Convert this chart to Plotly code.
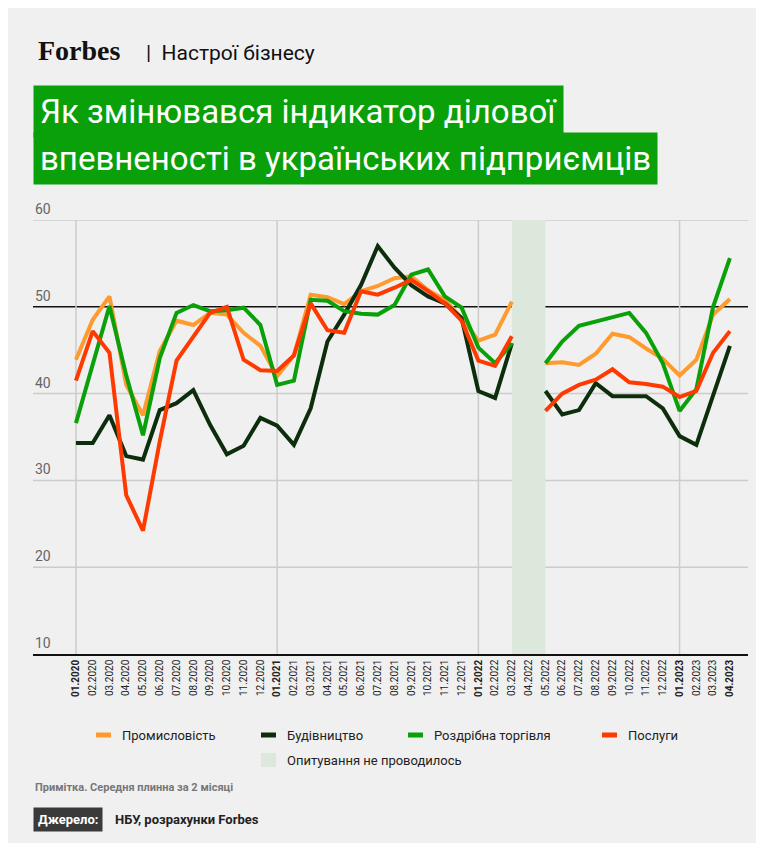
import numpy as np
import plotly.graph_objects as go

months = [f'{m:02d}.{y}' for y in (2020, 2021, 2022, 2023) for m in range(1, 13)][:40]

# 01.2020 - 03.2022, gap 04.2022, 05.2022 - 04.2023
industry_a = [43.9, 48.5, 51.2, 41, 37.5, 44.9, 48.4, 47.9, 49.3, 49.1, 47, 45.5, 42,
              44.4, 51.4, 51.1, 50.3, 51.8, 52.4, 53.3, 53.5, 51.9, 50.8, 48.7, 46.1, 46.8, 50.6]
industry_b = [43.5, 43.6, 43.3, 44.6, 46.9, 46.5, 45.2, 44, 42.1, 43.9, 49.1, 50.9]
building_a = [34.3, 34.3, 37.5, 32.8, 32.4, 38.1, 38.9, 40.4, 36.4, 33, 34, 37.2, 36.3,
              34.1, 38.3, 46, 49.1, 52.5, 57, 54.5, 52.5, 51.2, 50.4, 48.7, 40.3, 39.5, 45.8]
building_b = [40.3, 37.6, 38.1, 41.2, 39.7, 39.7, 39.7, 38.3, 35.1, 34.1, 39.8, 45.5]
retail_a = [36.6, 43.3, 50.1, 42.1, 35.2, 44.1, 49.3, 50.2, 49.5, 49.6, 49.9, 47.9, 41,
            41.5, 50.8, 50.7, 49.5, 49.2, 49.1, 50.2, 53.7, 54.3, 51.2, 49.9, 45.3, 43.5, 45.8]
retail_b = [43.5, 46, 47.8, 48.3, 48.8, 49.3, 47, 43.5, 38, 40.5, 50, 55.6]
services_a = [41.5, 47.2, 44.7, 28.3, 24.2, 34.5, 43.8, 46.6, 49.3, 50, 43.9, 42.7, 42.6,
              44.4, 50.4, 47.3, 47, 51.8, 51.4, 52.2, 53.1, 51.8, 50.4, 48.4, 43.8, 43.2, 46.6]
services_b = [38, 40, 41, 41.6, 42.8, 41.3, 41.1, 40.8, 39.6, 40.3, 44.7, 47.2]

series = [
    ('Промисловість', '#ff9a2e', industry_a, industry_b),
    ('Будівництво', '#0c2e0c', building_a, building_b),
    ('Роздрібна торгівля', '#0aa00a', retail_a, retail_b),
    ('Послуги', '#ff3a00', services_a, services_b),
]

FONT = 'Roboto'
W, H = 764, 843
L, R, T, B = 25, 24, 212, 197
PW, PH = W - L - R, H - T - B


def px(x):
    # page pixel -> paper x
    return (x - L) / PW


def py(y):
    # page pixel -> paper y
    return (H - B - y) / PH


fig = go.Figure()

# no survey period
fig.add_shape(type='rect', xref='x', yref='y', x0=26, x1=28, y0=10, y1=60,
              fillcolor='#dde8dd', line_width=0, layer='below')
for jan in (0, 12, 24, 36):
    fig.add_shape(type='line', xref='x', yref='y', x0=jan, x1=jan, y0=10, y1=60,
                  line=dict(color='#cccccc', width=1.5), layer='below')
for v in (20, 30, 40, 60):
    fig.add_shape(type='line', xref='paper', yref='y', x0=0, x1=1, y0=v, y1=v,
                  line=dict(color='#cccccc', width=1.5), layer='below')
fig.add_shape(type='line', xref='paper', yref='y', x0=0, x1=1, y0=50, y1=50,
              line=dict(color='#111111', width=1.5), layer='below')
for v in (10, 20, 30, 40, 50, 60):
    fig.add_annotation(x=0, xref='paper', y=v, yref='y', text=str(v), showarrow=False,
                       xanchor='left', yanchor='bottom', yshift=1,
                       font=dict(family=FONT, size=14, color='#666666'))

idx = np.arange(40)
for name, color, a, b in series:
    vals = a + [None] + b
    fig.add_trace(go.Scatter(x=idx, y=vals, mode='lines', name=name,
                             line=dict(color=color, width=4), connectgaps=False,
                             showlegend=False))

ticktext = [f'<b>{m}</b>' if m.startswith('01.') or m == '04.2023' else m for m in months]

fig.update_layout(
    width=W, height=H,
    paper_bgcolor='#f0f0f0', plot_bgcolor='#f0f0f0',
    margin=dict(l=L, r=R, t=T, b=B),
    xaxis=dict(range=[-2.56, 40.08], tickmode='array', tickvals=list(idx), ticktext=ticktext,
               tickangle=-90, showgrid=False, zeroline=False, showline=True,
               linecolor='#111111', linewidth=1.5,
               tickfont=dict(family=FONT, size=10, color='#222222')),
    yaxis=dict(range=[10, 60], showgrid=False, zeroline=False, showticklabels=False),
)

# header
fig.add_annotation(x=px(28), y=py(43), xref='paper', yref='paper',
                   text='<b>Forbes</b>', showarrow=False, xanchor='left', yanchor='middle',
                   font=dict(family='Liberation Serif', size=28, color='#111111'))
fig.add_annotation(x=px(136), y=py(45), xref='paper', yref='paper',
                   text='|  Настрої бізнесу', showarrow=False, xanchor='left', yanchor='middle',
                   font=dict(family=FONT, size=21, color='#111111'))

# title boxes
for text, yc in (('Як змінювався індикатор ділової', 103), ('впевненості в українських підприємців', 150)):
    fig.add_annotation(x=px(25), y=py(yc), xref='paper', yref='paper', text=text,
                       showarrow=False, xanchor='left', yanchor='middle', bgcolor='#0aa00a',
                       borderpad=6, font=dict(family=FONT, size=33, color='white'))

# legend
leg = [(88, 727, '#ff9a2e', 'Промисловість'), (253, 727, '#0c2e0c', 'Будівництво'),
       (400, 727, '#0aa00a', 'Роздрібна торгівля'), (594, 727, '#ff3a00', 'Послуги')]
for lx, ly, color, label in leg:
    fig.add_shape(type='line', xref='paper', yref='paper', x0=px(lx), x1=px(lx + 15),
                  y0=py(ly), y1=py(ly), line=dict(color=color, width=5))
    fig.add_annotation(x=px(lx + 24), y=py(ly), xref='paper', yref='paper', text=label,
                       showarrow=False, xanchor='left', yanchor='middle',
                       font=dict(family=FONT, size=13, color='#222222'))
fig.add_shape(type='rect', xref='paper', yref='paper', x0=px(253), x1=px(268),
              y0=py(759), y1=py(745), fillcolor='#dde8dd', line_width=0)
fig.add_annotation(x=px(277), y=py(752), xref='paper', yref='paper',
                   text='Опитування не проводилось', showarrow=False, xanchor='left',
                   yanchor='middle', font=dict(family=FONT, size=13, color='#222222'))

fig.add_annotation(x=px(25), y=py(779), xref='paper', yref='paper',
                   text='<b>Примітка. Середня плинна за 2 місяці</b>', showarrow=False,
                   xanchor='left', yanchor='middle', font=dict(family=FONT, size=11, color='#777777'))
fig.add_annotation(x=px(25), y=py(811), xref='paper', yref='paper',
                   text='<b>Джерело:</b>', showarrow=False, xanchor='left', yanchor='middle',
                   bgcolor='#3a3a3a', borderpad=4, font=dict(family=FONT, size=13, color='white'))
fig.add_annotation(x=px(105), y=py(811), xref='paper', yref='paper',
                   text='<b>НБУ, розрахунки Forbes</b>', showarrow=False, xanchor='left',
                   yanchor='middle', font=dict(family=FONT, size=13, color='#222222'))

fig.write_html('out.html')
